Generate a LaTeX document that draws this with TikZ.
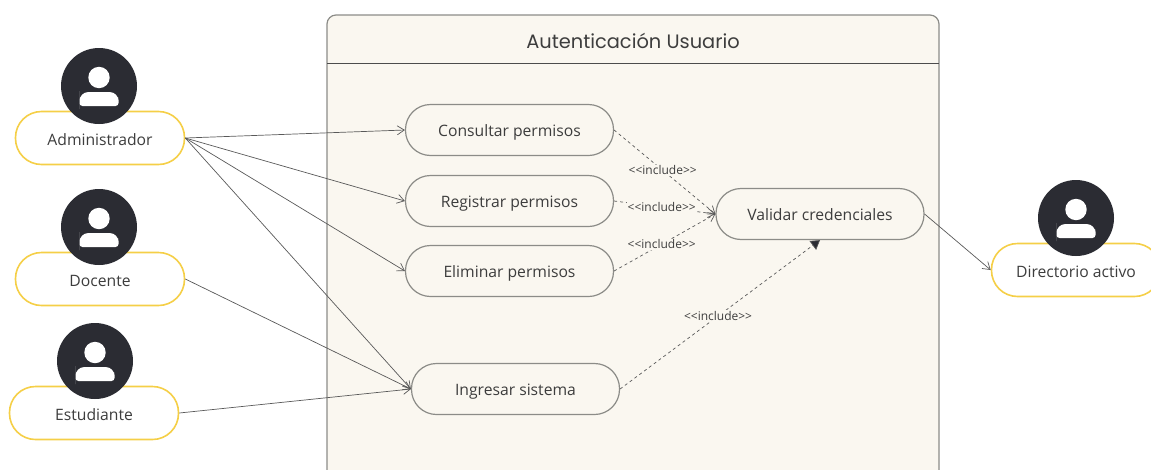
\documentclass[tikz,border=0pt]{standalone}
\usepackage{fontspec}
\setmainfont{Open Sans}
\newfontfamily\titlefont{Poppins}
\usepackage{xcolor}
\usepackage{tikz}
\usetikzlibrary{arrows.meta}

\definecolor{framebg}{HTML}{FAF7F0}
\definecolor{framegray}{HTML}{8C8C88}
\definecolor{pillyellow}{HTML}{F5CF47}
\definecolor{headdark}{HTML}{2B2C33}
\definecolor{inktext}{HTML}{3D3D3D}

\tikzset{
    actor/.style={shape=rectangle,draw=pillyellow,fill=white,line width=1.6pt,minimum width=169pt,minimum height=53pt,rounded corners=26pt,text=inktext,text height=15pt,text depth=0pt,font=\fontsize{15.7}{17}\selectfont},
    usecase/.style={shape=rectangle,draw=framegray,fill=framebg,line width=1.2pt,minimum width=208pt,minimum height=51pt,rounded corners=25pt,text=inktext,text height=12pt,text depth=0pt,font=\fontsize{15.7}{17}\selectfont},
    head/.style={shape=circle,fill=headdark,minimum size=76pt,inner sep=0pt},
    lbl/.style={fill=framebg,inner sep=1pt,text=inktext,font=\fontsize{12}{13}\selectfont},
    assoc/.style={draw=black!65,line width=0.7pt,-{Straight Barb[length=7pt,width=9pt]}},
    incl/.style={draw=black!65,line width=0.7pt,dashed,-{Straight Barb[length=7pt,width=9pt]}},
    inclfill/.style={draw=black!65,line width=0.7pt,dashed,-{Triangle[length=9pt,width=11pt,fill=headdark]}},
    usericon/.pic={
        \fill[white] (0,-8.5) circle (10.7pt);
        \fill[white,rounded corners=3pt] (-19.5,14) -- (-19.5,20) -- (19.5,20) -- (19.5,14) [rounded corners=9pt] -- (19.5,6) -- (-19.5,6) -- cycle;
    }
}

\begin{document}
\begin{tikzpicture}[x=1pt,y=-1pt]
    \clip (0,0) rectangle (1151,469);
    % frame
    \draw[draw=framegray,fill=framebg,line width=1.2pt,rounded corners=9pt] (327,520) -- (327,15) -- (939,15) -- (939,520);
    \node[coordinate] (FL) at (327,63){};
    \node[coordinate] (FR) at (939,63){};
    \draw[draw=black!70,line width=0.8pt] (FL) -- (FR);
    \node[text=inktext,font=\titlefont\fontsize{19.4}{22}\selectfont] (Title) at (633,41){Autenticación Usuario};

    % actors
    \node[actor] (Adm) at (100,138){Administrador};
    \node[actor] (Doc) at (100,279){Docente};
    \node[actor] (Est) at (94,413){Estudiante};
    \node[actor] (Dir) at (1076,270){Directorio activo};
    \node[head] (AdmHead) at (99,86){};
    \node[head] (DocHead) at (99,227){};
    \node[head] (EstHead) at (95,361){};
    \node[head] (DirHead) at (1076,218){};
    \pic at (AdmHead) {usericon};
    \pic at (DocHead) {usericon};
    \pic at (EstHead) {usericon};
    \pic at (DirHead) {usericon};

    % use cases
    \node[usecase] (Con) at (509.5,130){Consultar permisos};
    \node[usecase] (Reg) at (509.5,201){Registrar permisos};
    \node[usecase] (Eli) at (509.5,271){Eliminar permisos};
    \node[usecase] (Ing) at (515.5,389){Ingresar sistema};
    \node[usecase] (Val) at (820,214){Validar credenciales};

    \path (Adm.east) edge[assoc] (Con.west);
    \path (Adm.east) edge[assoc] (Reg.west);
    \path (Adm.east) edge[assoc] (Eli.west);
    \path (Adm.east) edge[assoc] (Ing.west);
    \path (Doc.east) edge[assoc] (Ing.west);
    \path (Est.east) edge[assoc] (Ing.west);
    \path (Val.east) edge[assoc] (Dir.west);

    \path (Con.east) edge[incl] node[lbl,pos=0.48] (LblCon) {<{}<include>{}>} (Val.west);
    \path (Reg.east) edge[incl] node[lbl,pos=0.47] (LblReg) {<{}<include>{}>} (Val.west);
    \path (Eli.east) edge[incl] node[lbl,pos=0.47] (LblEli) {<{}<include>{}>} (Val.west);
    \path (Ing.east) edge[inclfill] node[lbl,pos=0.49] (LblIng) {<{}<include>{}>} (Val.south);
\end{tikzpicture}
\end{document}
